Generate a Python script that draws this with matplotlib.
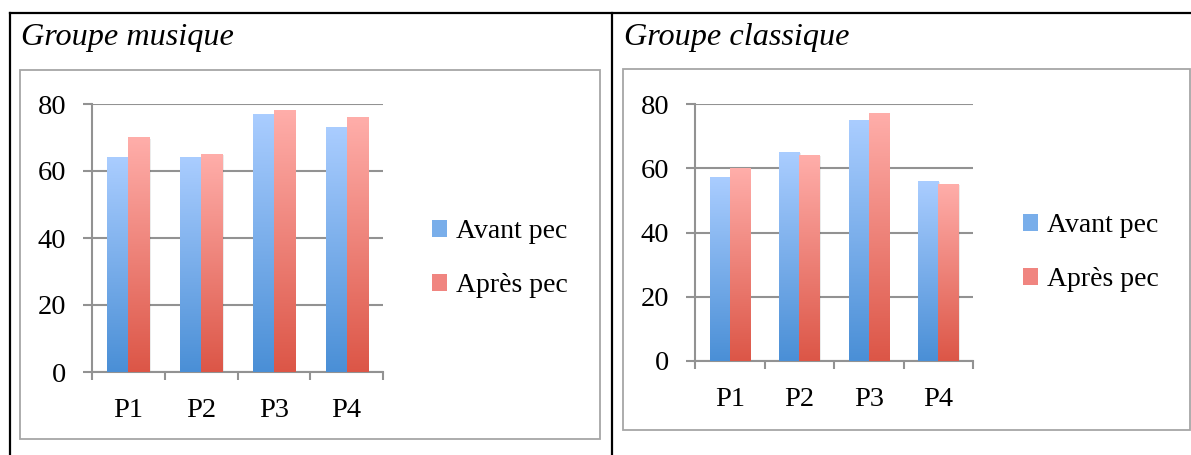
import numpy as np
import matplotlib
matplotlib.use("Agg")
import matplotlib.pyplot as plt
from matplotlib.colors import LinearSegmentedColormap
from matplotlib.patches import Rectangle, Patch
from matplotlib.lines import Line2D

# data
categories = ["P1", "P2", "P3", "P4"]
series_names = ["Avant pec", "Après pec"]
musique_avant = [64, 64, 77, 73]
musique_apres = [70, 65, 78, 76]
classique_avant = [57, 65, 75, 56]
classique_apres = [60, 64, 77, 55]
y_ticks = [0, 20, 40, 60, 80]

W, H = 1191, 455
plt.rcParams['font.family'] = ['Liberation Serif', 'DejaVu Serif']

fig = plt.figure(figsize=(W / 100, H / 100), dpi=100)
fig.patch.set_facecolor("white")


def px_axes(x0, y0, x1, y1):
    # pixel box (top-left origin) -> figure fraction axes
    return fig.add_axes([x0 / W, 1 - y1 / H, (x1 - x0) / W, (y1 - y0) / H])


def fig_line(xs, ys, color="black", lw=1.6):
    fig.add_artist(Line2D([x / W for x in xs], [1 - y / H for y in ys],
                          color=color, lw=lw, transform=fig.transFigure))


def fig_rect(x0, y0, x1, y1, color="#a6a6a6", lw=1.3):
    fig.add_artist(Rectangle((x0 / W, 1 - y1 / H), (x1 - x0) / W, (y1 - y0) / H,
                             fill=False, edgecolor=color, lw=lw,
                             transform=fig.transFigure))


blue_cmap = LinearSegmentedColormap.from_list("b", ["#4a8fd6", "#aacdff"])
red_cmap = LinearSegmentedColormap.from_list("r", ["#dc5647", "#ffaeaa"])
grad = np.linspace(0, 1, 256).reshape(-1, 1)


def draw_chart(ax, avant, apres, legend_xy):
    x = np.arange(len(categories))
    w = 0.29
    for vals, off, cmap in [(avant, -w / 2, blue_cmap), (apres, w / 2, red_cmap)]:
        bars = ax.bar(x + off, vals, width=w, color="none", zorder=3)
        for b in bars:
            bx, by, bw, bh = b.get_x(), b.get_y(), b.get_width(), b.get_height()
            # soft shadow
            ax.add_patch(Rectangle((bx + 0.02, by), bw, bh - 0.3, color="#000000",
                                   alpha=0.08, lw=0, zorder=2.5))
            ax.imshow(grad, extent=[bx, bx + bw, by, by + bh], origin="lower",
                      aspect="auto", cmap=cmap, zorder=3)
    ax.set_xlim(-0.5, len(categories) - 0.5)
    ax.set_ylim(0, 80)
    ax.set_yticks(y_ticks)
    ax.set_yticklabels([str(t) for t in y_ticks], fontsize=20.5)
    ax.yaxis.grid(True, color="#929292", lw=1.5, zorder=1)
    ax.set_axisbelow(True)
    ax.set_xticks(x)
    ax.set_xticklabels(categories, fontsize=20.5)
    ax.set_xticks(np.arange(len(categories) + 1) - 0.5, minor=True)
    ax.tick_params(axis="x", which="major", length=0, pad=19)
    ax.tick_params(axis="x", which="minor", length=5.5, width=1.5, color="#929292")
    ax.tick_params(axis="y", length=6.5, width=1.5, color="#929292", pad=12)
    for s in ["top", "right"]:
        ax.spines[s].set_visible(False)
    for s in ["left", "bottom"]:
        ax.spines[s].set_color("#929292")
        ax.spines[s].set_linewidth(1.5)
    handles = [Patch(facecolor="#79aeea", edgecolor="none"),
               Patch(facecolor="#f08580", edgecolor="none")]
    fig.legend(handles, series_names, loc="upper left",
               bbox_to_anchor=(legend_xy[0] / W, 1 - legend_xy[1] / H),
               frameon=False, fontsize=20, handlelength=0.55, handleheight=0.55,
               handletextpad=0.3, labelspacing=1.05, borderpad=0, borderaxespad=0)


# table borders
fig_line([10, W], [13, 13])
fig_line([10, 10], [13, H])
fig_line([612, 612], [13, H])

# chart frames
fig_rect(20, 70, 600, 439)
fig_rect(623, 69, 1190, 430)

fig.text(21 / W, 1 - 45 / H, "Groupe musique", fontsize=23.2, style="italic",
         va="baseline", ha="left")
fig.text(624 / W, 1 - 45 / H, "Groupe classique", fontsize=23.2, style="italic",
         va="baseline", ha="left")

ax1 = px_axes(92, 104, 383, 372)
draw_chart(ax1, musique_avant, musique_apres, (432, 219))
ax2 = px_axes(695, 104, 973, 361)
draw_chart(ax2, classique_avant, classique_apres, (1023, 213))

fig.savefig("out.png", dpi=100)
